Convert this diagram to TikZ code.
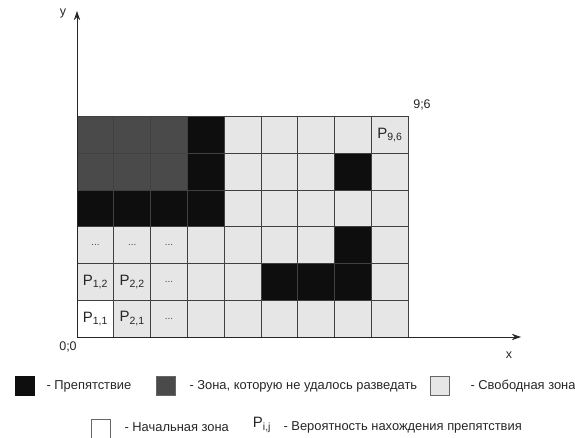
\documentclass[tikz,border=0pt]{standalone}
\usepackage{fontspec}
\setmainfont{Liberation Sans}
\usepackage{tikz}
\usetikzlibrary{arrows.meta}

\definecolor{ob}{HTML}{0E0E0E}
\definecolor{un}{HTML}{4A4A4A}
\definecolor{fr}{HTML}{E6E6E6}
\definecolor{st}{HTML}{FFFFFF}

\begin{document}
\begin{tikzpicture}[
			x=1pt,y=1pt,
			cell/.style={draw=black!75,line width=0.9pt,minimum width=36.8pt,minimum height=36.7pt,
				inner sep=0pt,font=\fontsize{15}{15}\selectfont},
			dots/.style={font=\fontsize{10}{10}\selectfont,text=black!70},
			axis/.style={-{Stealth[length=3.2mm,width=2.2mm]},draw=black!85,line width=0.9pt},
			lbl/.style={font=\fontsize{12.5}{12.5}\selectfont,text=black!85},
			key/.style={draw=black!60,line width=0.6pt,minimum size=19pt,inner sep=0pt},
			txt/.style={font=\fontsize{12.9}{12.9}\selectfont,anchor=west,text=black!85}]
			\useasboundingbox (0,0) rectangle (575,438);
			% grid, rows bottom to top
			\foreach \row [count=\j from 1] in {
				{st,fr,fr,fr,fr,fr,fr,fr,fr},
				{fr,fr,fr,fr,fr,ob,ob,ob,fr},
				{fr,fr,fr,fr,fr,fr,fr,ob,fr},
				{ob,ob,ob,ob,fr,fr,fr,fr,fr},
				{un,un,un,ob,fr,fr,fr,ob,fr},
				{un,un,un,ob,fr,fr,fr,fr,fr}}
				\foreach \f [count=\i from 1] in \row
					\node[cell,fill=\f] (c-\i-\j) at ({77+(\i-0.5)*36.8},{101+(\j-0.5)*36.7}) {};
			% cell texts
			\foreach \i/\j/\t in {1/1/{P\textsubscript{1,1}},2/1/{P\textsubscript{2,1}},
				1/2/{P\textsubscript{1,2}},2/2/{P\textsubscript{2,2}},9/6/{P\textsubscript{9,6}}}
				\node[font=\fontsize{15}{15}\selectfont,text=black!85] (t-\i-\j) at (c-\i-\j) {\t};
			\foreach \i/\j in {3/1,3/2,1/3,2/3,3/3}
				\node[dots] (t-\i-\j) at (c-\i-\j) {...};
			% axes
			\coordinate (O) at (77,101);
			\coordinate (xe) at (521,101);
			\coordinate (ye) at (77,427);
			\draw[axis] (O) -- (xe);
			\draw[axis] (O) -- (ye);
			\node[lbl] (ylab) at (63,424) {y};
			\node[lbl] (xlab) at (509,83) {x};
			\node[lbl] (orig) at (68,91) {0;0};
			\node[lbl] (corner) at (422,333) {9;6};
			% legend
			\node[key,fill=ob,draw=ob] (k-ob) at (25,52) {};
			\node[txt] (d-ob) at (43,52) {- Препятствие};
			\node[key,fill=un] (k-un) at (166,52) {};
			\node[txt] (d-un) at (186,52) {- Зона, которую не удалось разведать};
			\node[key,fill=fr] (k-fr) at (440,52) {};
			\node[txt] (d-fr) at (467,52) {- Свободная зона};
			\node[key,fill=st] (k-st) at (101,9) {};
			\node[txt] (d-st) at (121,11) {- Начальная зона};
			\node[font=\fontsize{15}{15}\selectfont,text=black!85] (k-p) at (262,13) {P\textsubscript{i,j}};
			\node[txt] (d-p) at (280,11) {- Вероятность нахождения препятствия};
		\end{tikzpicture}
\end{document}
